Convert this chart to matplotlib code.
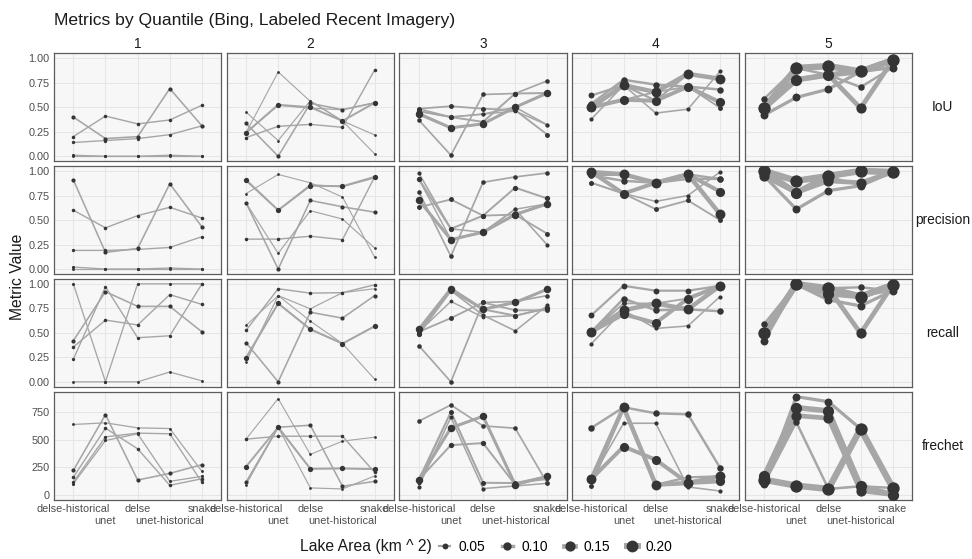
import numpy as np
import matplotlib
matplotlib.use("Agg")
import matplotlib.pyplot as plt
from matplotlib.lines import Line2D

plt.rcParams["font.family"] = ["Liberation Sans", "DejaVu Sans"]

methods = ["delse-historical", "unet", "delse", "unet-historical", "snake"]
quantiles = [1, 2, 3, 4, 5]
metrics = ["IoU", "precision", "recall", "frechet"]
legend_areas = [0.05, 0.10, 0.15, 0.20]

# quantile 1 (one row per lake, values in method order)
q1_area = [0.025, 0.018, 0.016, 0.014, 0.012]
q1_iou = [[0.40, 0.18, 0.20, 0.69, 0.31],
          [0.20, 0.41, 0.33, 0.37, 0.52],
          [0.14, 0.16, 0.18, 0.22, 0.31],
          [0.01, 0.00, 0.00, 0.01, 0.00],
          [0.00, 0.00, 0.00, 0.00, 0.00]]
q1_precision = [[0.91, 0.17, 0.21, 0.87, 0.43],
                [0.60, 0.42, 0.545, 0.63, 0.52],
                [0.19, 0.19, 0.20, 0.22, 0.33],
                [0.02, 0.00, 0.00, 0.01, 0.00],
                [0.00, 0.00, 0.00, 0.00, 0.00]]
q1_recall = [[0.42, 0.92, 0.77, 0.77, 0.51],
             [0.355, 0.63, 0.58, 0.89, 0.79],
             [0.23, 0.97, 0.45, 0.47, 1.00],
             [1.00, 0.00, 1.00, 1.00, 1.00],
             [0.00, 0.00, 0.00, 0.10, 0.01]]
q1_frechet = [[221, 730, 133, 194, 273],
              [158, 606, 418, 85, 145],
              [115, 527, 561, 555, 112],
              [100, 494, 555, 121, 167],
              [640, 655, 609, 603, 212]]

# quantile 2
q2_area = [0.04, 0.006, 0.025, 0.009, 0.018, 0.012]
q2_iou = [[0.24, 0.525, 0.50, 0.36, 0.545],
          [0.24, 0.86, 0.56, 0.36, 0.024],
          [0.335, 0.00, 0.54, 0.475, 0.545],
          [0.45, 0.16, 0.566, 0.36, 0.217],
          [0.19, 0.305, 0.325, 0.295, 0.88],
          [0.24, 0.52, 0.49, 0.475, 0.545]]
q2_precision = [[0.91, 0.60, 0.85, 0.845, 0.94],
                [0.77, 0.965, 0.88, 0.735, 0.12],
                [0.675, 0.00, 0.70, 0.635, 0.58],
                [0.675, 0.16, 0.595, 0.51, 0.215],
                [0.305, 0.305, 0.335, 0.30, 0.94],
                [0.90, 0.60, 0.86, 0.84, 0.93]]
q2_recall = [[0.245, 0.80, 0.535, 0.39, 0.567],
             [0.575, 0.88, 0.62, 0.39, 0.027],
             [0.40, 0.00, 0.71, 0.65, 0.88],
             [0.20, 0.88, 0.745, 0.91, 0.95],
             [0.525, 0.95, 0.905, 0.91, 0.99],
             [0.245, 0.80, 0.54, 0.39, 0.567]]
q2_frechet = [[255, 615, 236, 239, 233],
              [506, 876, 367, 488, 524],
              [112, 615, 633, 76, 121],
              [91, 615, 61, 52, 170],
              [506, 533, 533, 533, 203],
              [112, 615, 236, 239, 233]]

# quantile 3
q3_area = [0.08, 0.03, 0.035, 0.025, 0.04, 0.02, 0.05]
q3_iou = [[0.43, 0.29, 0.33, 0.50, 0.645],
          [0.37, 0.01, 0.63, 0.64, 0.77],
          [0.485, 0.51, 0.485, 0.47, 0.22],
          [0.46, 0.40, 0.43, 0.50, 0.32],
          [0.46, 0.40, 0.35, 0.64, 0.645],
          [0.485, 0.40, 0.43, 0.46, 0.32],
          [0.44, 0.29, 0.33, 0.50, 0.645]]
q3_precision = [[0.705, 0.30, 0.375, 0.555, 0.665],
                [0.79, 0.13, 0.885, 0.94, 0.98],
                [0.63, 0.71, 0.545, 0.555, 0.36],
                [0.98, 0.41, 0.375, 0.61, 0.245],
                [0.92, 0.41, 0.545, 0.83, 0.72],
                [0.92, 0.30, 0.375, 0.61, 0.665],
                [0.70, 0.30, 0.38, 0.56, 0.665]]
q3_recall = [[0.535, 0.95, 0.74, 0.81, 0.945],
             [0.37, 0.00, 0.81, 0.82, 0.88],
             [0.51, 0.65, 0.81, 0.73, 0.73],
             [0.51, 0.93, 0.68, 0.52, 0.78],
             [0.485, 0.93, 0.74, 0.675, 0.75],
             [0.51, 0.82, 0.66, 0.675, 0.75],
             [0.535, 0.95, 0.74, 0.81, 0.945]]
q3_frechet = [[136, 609, 715, 91, 167],
              [670, 818, 627, 606, 103],
              [136, 755, 109, 106, 167],
              [73, 706, 55, 79, 103],
              [136, 452, 470, 91, 167],
              [110, 755, 109, 106, 140],
              [136, 609, 715, 91, 167]]

# quantile 4
q4_area = [0.14, 0.12, 0.06, 0.05, 0.025, 0.035]
q4_iou = [[0.50, 0.725, 0.655, 0.84, 0.79],
          [0.50, 0.576, 0.566, 0.71, 0.55],
          [0.535, 0.78, 0.73, 0.71, 0.68],
          [0.62, 0.725, 0.566, 0.84, 0.79],
          [0.38, 0.725, 0.44, 0.48, 0.865],
          [0.485, 0.576, 0.655, 0.71, 0.495]]
q4_precision = [[0.99, 0.966, 0.88, 0.966, 0.56],
                [0.99, 0.77, 0.88, 0.966, 0.79],
                [0.955, 0.90, 0.88, 0.92, 0.92],
                [0.955, 0.966, 0.88, 0.966, 0.92],
                [0.88, 0.77, 0.69, 0.75, 0.99],
                [0.88, 0.77, 0.61, 0.70, 0.50]]
q4_recall = [[0.51, 0.73, 0.80, 0.74, 0.98],
             [0.51, 0.69, 0.60, 0.85, 0.98],
             [0.51, 0.85, 0.73, 0.74, 0.72],
             [0.68, 0.98, 0.93, 0.93, 0.98],
             [0.39, 0.73, 0.545, 0.57, 0.87],
             [0.51, 0.80, 0.80, 0.85, 0.98]]
q4_frechet = [[143, 797, 91, 106, 167],
              [143, 439, 318, 106, 121],
              [609, 797, 742, 733, 245],
              [143, 797, 91, 158, 167],
              [143, 651, 651, 70, 33],
              [76, 797, 91, 106, 121]]

# quantile 5
q5_area = [0.22, 0.18, 0.15, 0.09, 0.06, 0.03]
q5_iou = [[0.49, 0.90, 0.92, 0.865, 0.98],
          [0.49, 0.78, 0.83, 0.865, 0.98],
          [0.49, 0.78, 0.83, 0.49, 0.98],
          [0.42, 0.60, 0.685, 0.865, 0.905],
          [0.586, 0.90, 0.83, 0.705, 0.905],
          [0.45, 0.90, 0.92, 0.86, 0.905]]
q5_precision = [[1.00, 0.90, 0.95, 1.00, 0.99],
                [1.00, 0.78, 0.95, 1.00, 0.99],
                [0.95, 0.78, 0.90, 0.88, 0.99],
                [0.95, 0.61, 0.80, 0.85, 0.99],
                [1.00, 0.90, 0.90, 0.88, 0.99],
                [0.98, 0.90, 0.95, 0.85, 0.99]]
q5_recall = [[0.495, 0.996, 0.955, 0.87, 0.99],
             [0.495, 0.996, 0.90, 0.87, 0.99],
             [0.495, 0.996, 0.955, 0.495, 0.99],
             [0.42, 0.996, 0.835, 0.775, 0.93],
             [0.59, 0.996, 0.955, 0.965, 0.93],
             [0.45, 0.99, 0.95, 0.87, 0.93]]
q5_frechet = [[136, 82, 52, 600, 61],
              [167, 794, 764, 76, 0],
              [136, 721, 697, 36, 0],
              [100, 894, 848, 600, 61],
              [100, 661, 52, 76, 61],
              [136, 82, 52, 76, 0]]

areas = {1: q1_area, 2: q2_area, 3: q3_area, 4: q4_area, 5: q5_area}
values = {
    1: {"IoU": q1_iou, "precision": q1_precision, "recall": q1_recall, "frechet": q1_frechet},
    2: {"IoU": q2_iou, "precision": q2_precision, "recall": q2_recall, "frechet": q2_frechet},
    3: {"IoU": q3_iou, "precision": q3_precision, "recall": q3_recall, "frechet": q3_frechet},
    4: {"IoU": q4_iou, "precision": q4_precision, "recall": q4_recall, "frechet": q4_frechet},
    5: {"IoU": q5_iou, "precision": q5_precision, "recall": q5_recall, "frechet": q5_frechet},
}

LINE_COL = "#a6a6a6"
PT_COL = "#353535"
PANEL_BG = "#f7f7f7"
GRID_COL = "#e6e6e6"
BORDER_COL = "#5c5c5c"
TICK_COL = "#4d4d4d"


def line_width(a):
    return 0.7 + 18 * a


def marker_size(a):
    return max(2.0, 19 * np.sqrt(a))


fig = plt.figure(figsize=(9.72, 5.59), dpi=100)
gs = fig.add_gridspec(4, 5, left=0.0556, right=0.9383, top=0.9046, bottom=0.1064,
                      wspace=0.033, hspace=0.0465)

x = np.arange(len(methods))
frechet_max = max(max(max(r) for r in values[q]["frechet"]) for q in quantiles)

for i, metric in enumerate(metrics):
    for j, q in enumerate(quantiles):
        ax = fig.add_subplot(gs[i, j])
        ax.set_facecolor(PANEL_BG)
        lakes = values[q][metric]
        lake_areas = areas[q]

        for k in x:
            ax.axvline(k, color=GRID_COL, lw=0.8, zorder=0)
        if metric == "frechet":
            yticks = [0, 250, 500, 750]
            ylabels = ["0", "250", "500", "750"]
            ax.set_ylim(-0.05 * frechet_max, 1.05 * frechet_max)
        else:
            yticks = [0, 0.25, 0.5, 0.75, 1.0]
            ylabels = ["0.00", "0.25", "0.50", "0.75", "1.00"]
            ax.set_ylim(-0.05, 1.05)
        for t in yticks:
            ax.axhline(t, color=GRID_COL, lw=0.8, zorder=0)

        for vals, a in zip(lakes, lake_areas):
            ax.plot(x, vals, color=LINE_COL, lw=line_width(a),
                    solid_joinstyle="round", solid_capstyle="round", zorder=2)
        for vals, a in zip(lakes, lake_areas):
            ax.plot(x, vals, ls="none", marker="o", ms=marker_size(a),
                    color=PT_COL, markeredgewidth=0, zorder=3)

        ax.set_xlim(-0.6, 4.6)
        ax.set_yticks(yticks)
        if j == 0:
            ax.set_yticklabels(ylabels)
        else:
            ax.set_yticklabels([])

        ax.set_xticks([0, 2, 4])
        ax.set_xticks([1, 3], minor=True)
        if i == len(metrics) - 1:
            ax.set_xticklabels([methods[0], methods[2], methods[4]])
            ax.set_xticklabels([methods[1], methods[3]], minor=True)
        else:
            ax.set_xticklabels([])
        ax.tick_params(axis="both", which="both", length=0, labelsize=7.8,
                       labelcolor=TICK_COL)
        ax.tick_params(axis="y", pad=3.4)
        ax.tick_params(axis="x", which="major", pad=3.2)
        ax.tick_params(axis="x", which="minor", pad=11.6)

        for sp in ax.spines.values():
            sp.set_color(BORDER_COL)
            sp.set_linewidth(0.9)

        if i == 0:
            ax.set_title(str(q), fontsize=9.9, color="#1a1a1a", pad=3.5)
        if j == len(quantiles) - 1:
            ax.text(1.183, 0.5, metric, transform=ax.transAxes, ha="center",
                    va="center", fontsize=9.9, color="#1a1a1a")

fig.text(54 / 972, 1 - 25 / 559, "Metrics by Quantile (Bing, Labeled Recent Imagery)",
         fontsize=12.6, color="#1a1a1a", va="baseline", ha="left")
fig.text(17 / 972, 0.5055, "Metric Value", rotation=90, fontsize=11.3,
         color="#1a1a1a", ha="center", va="center")

handles = [Line2D([], [], color=LINE_COL, lw=line_width(a), marker="o",
                  ms=marker_size(a), markerfacecolor=PT_COL,
                  markeredgewidth=0) for a in legend_areas]
labels = [f"{a:.2f}" for a in legend_areas]
fig.legend(handles, labels, loc="center", bbox_to_anchor=(0.572, 1 - 547 / 559),
           ncol=4, frameon=False, fontsize=9.9, handlelength=0.8,
           handletextpad=0.6, columnspacing=1.2)
fig.text(432 / 972, 1 - 547 / 559, "Lake Area (km ^ 2)", fontsize=11.3,
         color="#1a1a1a", ha="right", va="center")

fig.savefig("out.png", dpi=100)
